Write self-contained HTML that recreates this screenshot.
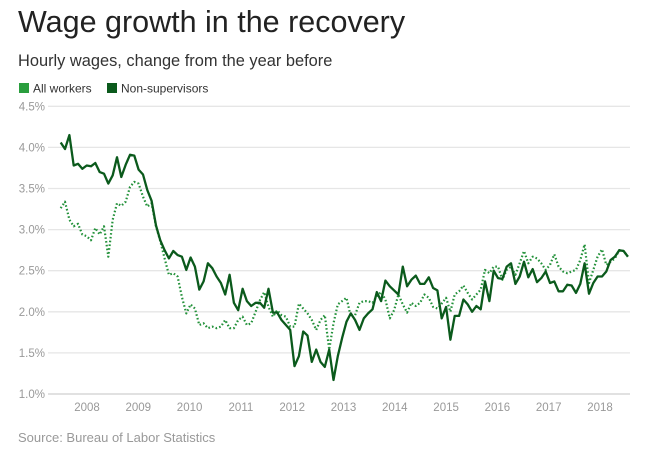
<!DOCTYPE html>
<html><head><meta charset="utf-8"><style>
body{margin:0;background:#fff;width:650px;height:460px;overflow:hidden;font-family:"Liberation Sans",sans-serif}
</style></head><body>
<svg width="650" height="460" style="font-family:'Liberation Sans',sans-serif">
<text x="18" y="32" font-size="30.5" fill="#222">Wage growth in the recovery</text>
<text x="18" y="66" font-size="16.4" fill="#333">Hourly wages, change from the year before</text>
<g>
<rect x="19" y="83" width="10" height="10" fill="#2a9e3e"/>
<text x="33" y="92.5" font-size="12" fill="#333">All workers</text>
<rect x="107" y="83" width="10" height="10" fill="#0b5a1c"/>
<text x="121" y="92.5" font-size="12" fill="#333">Non-supervisors</text>
</g>
<g id="grid"></g><g id="xax"></g><g id="series"></g>
<text x="18" y="442" font-size="13" fill="#999">Source: Bureau of Labor Statistics</text>
</svg>
<script>
const yTicks=[1.0,1.5,2.0,2.5,3.0,3.5,4.0,4.5];
const years=["2008","2009","2010","2011","2012","2013","2014","2015","2016","2017","2018"];
const nonSupervisors=[4.06,3.98,4.15,3.78,3.80,3.74,3.78,3.77,3.81,3.70,3.68,3.56,3.66,3.88,3.64,3.79,3.91,3.90,3.73,3.67,3.48,3.35,3.05,2.87,2.75,2.65,2.74,2.69,2.67,2.51,2.66,2.55,2.27,2.37,2.59,2.53,2.43,2.35,2.21,2.45,
2.11,2.02,2.28,2.13,2.07,2.11,2.11,2.05,2.28,1.99,1.99,1.90,1.84,1.78,1.34,1.46,1.76,1.71,1.39,1.54,1.39,1.33,1.54,1.17,1.46,1.68,1.88,1.98,1.90,1.78,1.92,1.98,2.03,2.24,2.13,2.38,2.31,2.26,2.21,2.55,2.31,2.39,2.44,2.34,2.34,2.42,
2.29,2.26,1.92,2.06,1.66,1.95,1.95,2.15,2.09,2.00,2.07,2.03,2.37,2.13,2.50,2.41,2.40,2.55,2.59,2.34,2.43,2.61,2.42,2.52,2.36,2.41,2.49,2.35,2.37,2.25,2.25,2.33,2.32,2.23,2.34,2.59,2.22,2.35,2.43,2.43,2.49,2.63,2.67,2.75,2.74,2.67];
const allWorkers=[3.26,3.34,3.12,3.04,3.07,2.94,2.92,2.87,3.02,2.94,3.04,2.67,3.12,3.32,3.29,3.34,3.52,3.58,3.56,3.40,3.28,3.32,3.04,2.86,2.65,2.45,
2.47,2.43,2.18,1.98,2.09,2.04,1.84,1.86,1.80,1.82,1.80,1.82,1.90,1.80,1.80,1.90,1.94,1.84,1.86,2.00,2.14,2.24,2.06,1.94,2.02,1.96,1.94,1.82,1.82,2.10,
2.04,1.98,1.90,1.78,1.90,1.96,1.54,1.86,2.09,2.13,2.17,1.94,1.96,2.11,2.13,2.13,2.11,2.19,2.24,2.15,1.92,2.02,2.21,2.09,1.99,2.11,2.07,2.11,2.21,2.17,
2.06,2.04,2.10,2.17,2.00,2.21,2.25,2.32,2.23,2.15,2.21,2.27,2.51,2.47,2.55,2.55,2.39,2.51,2.55,2.45,2.59,2.74,2.59,2.67,2.65,2.59,2.51,2.57,2.70,2.55,2.49,2.47,2.49,2.51,2.63,2.82,2.35,2.51,2.67,2.76,2.57,2.61,2.65,2.75,2.74,2.67];
const NS="http://www.w3.org/2000/svg";
const y=v=>394-(v-1.0)*82.2;
const x=i=>60.7+i*4.33;
const yearX=k=>87+k*51.3;
const grid=document.getElementById('grid');
yTicks.forEach(t=>{
 const l=document.createElementNS(NS,'line');
 l.setAttribute('x1',48);l.setAttribute('x2',630);l.setAttribute('y1',y(t));l.setAttribute('y2',y(t));
 l.setAttribute('stroke',t===1.0?'#cfcfcf':'#e6e6e6');l.setAttribute('stroke-width',1.3);
 
 
 grid.appendChild(l);
 const tx=document.createElementNS(NS,'text');
 tx.setAttribute('x',45);tx.setAttribute('y',y(t)+4);tx.setAttribute('text-anchor','end');
 tx.setAttribute('font-size','11.5');tx.setAttribute('fill','#999');
 tx.textContent=t.toFixed(1)+'%';
 
 
 grid.appendChild(tx);
});
const xax=document.getElementById('xax');
years.forEach((yr,k)=>{
 const tx=document.createElementNS(NS,'text');
 tx.setAttribute('x',yearX(k));tx.setAttribute('y',411);tx.setAttribute('text-anchor','middle');
 tx.setAttribute('font-size','11.5');tx.setAttribute('fill','#999');
 tx.textContent=yr;
 
 
 xax.appendChild(tx);
});
const ser=document.getElementById('series');
function line(arr,color,dash,name){
 const p=document.createElementNS(NS,'path');
 p.setAttribute('d',arr.map((v,i)=>(i?'L':'M')+x(i).toFixed(1)+' '+y(v).toFixed(1)).join(''));
 p.setAttribute('fill','none');p.setAttribute('stroke',color);p.setAttribute('stroke-width',dash?2.2:2.3);
 p.setAttribute('stroke-linejoin','round');
 if(dash)p.setAttribute('stroke-dasharray','1.6 2.2');
 
 
 ser.appendChild(p);
}
line(allWorkers,'#23913a',true,'all-workers-line');
line(nonSupervisors,'#0b5a1c',false,'non-supervisors-line');
</script>
</body></html>
